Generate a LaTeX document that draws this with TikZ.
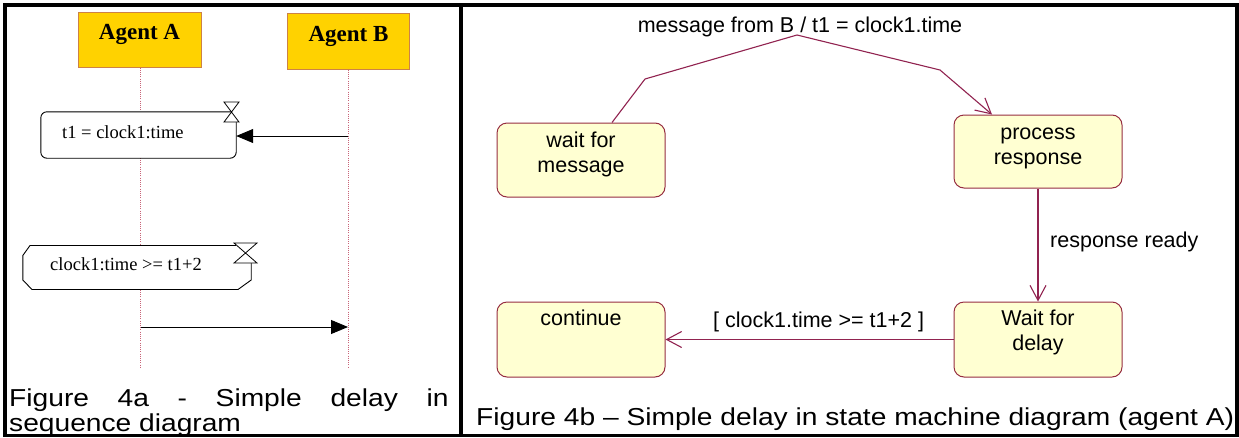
\documentclass[tikz,border=0pt]{standalone}
\usepackage{graphicx}
\usepackage{fontspec}
\setmainfont{Liberation Sans}
\newfontfamily\seqfont{Liberation Serif}
\usetikzlibrary{arrows.meta,calc}

\definecolor{agentfill}{RGB}{255,210,0}
\definecolor{agentdraw}{RGB}{205,130,70}
\definecolor{lifecol}{RGB}{200,100,120}
\definecolor{statefill}{RGB}{255,255,210}
\definecolor{statedraw}{RGB}{150,45,65}
\definecolor{transcol}{RGB}{145,35,80}

\tikzset{
  agent/.style={draw=agentdraw, fill=agentfill, line width=1pt, inner sep=0pt},
  agentlabel/.style={font=\seqfont\bfseries\fontsize{23}{26}\selectfont, inner sep=0pt, anchor=base},
  lifeline/.style={draw=lifecol, line width=0.8pt, dash pattern=on 1pt off 1.2pt},
  actbox/.style={draw=black, fill=white, line width=0.9pt},
  boxtext/.style={font=\seqfont\fontsize{18.5}{21}\selectfont, inner sep=0pt, anchor=base west},
  sync/.style={-{Triangle[length=17pt,width=14pt]}, line width=0.9pt},
  hourglass/.style={draw=black, fill=white, line width=0.8pt, line join=miter},
  state/.style={draw=statedraw, fill=statefill, rounded corners=10pt, line width=1pt, minimum width=168pt, inner sep=0pt},
  statetext/.style={font=\fontsize{21.5}{24.5}\selectfont, inner sep=0pt, anchor=base},
  trans/.style={draw=transcol, line width=1.1pt, -{Straight Barb[length=15pt,width=16pt]}},
  translabel/.style={font=\fontsize{21.5}{24}\selectfont, inner sep=0pt, anchor=base west},
  caption/.style={font=\fontsize{24.5}{27}\selectfont, inner sep=0pt, anchor=base west},
  frame/.style={draw=black, line width=3.5pt},
}
% captions are set slightly wide
\newcommand{\widecap}[1]{\scalebox{1.15}[1]{#1}}

\begin{document}
\begin{tikzpicture}[x=1pt,y=-1pt]
\useasboundingbox (0,0) rectangle (1239,437);

% panel frames
\draw[frame] (5,5) rectangle (1237,435.5);
\draw[line width=4pt] (461,5) -- (461,435.5);

% ---------- sequence diagram ----------
\node[agent, minimum width=123pt, minimum height=55pt] (agA) at (139.5,39.5) {};
\node[agentlabel] at ($(agA.north)+(0,28)$) {Agent A};
\node[agent, minimum width=122pt, minimum height=56pt] (agB) at (348.5,41) {};
\node[agentlabel] at ($(agB.north)+(0,29)$) {Agent B};

\coordinate (endA) at (140,367);
\coordinate (endB) at (348,367);
\draw[lifeline] (agA.south -| endA) -- (endA);
\draw[lifeline] (agB.south -| endB) -- (endB);

% action box with timer
\node[minimum width=195pt, minimum height=46pt, inner sep=0pt] (setbox) at (138.5,135) {};
\draw[actbox, rounded corners=6pt] ($(setbox.north east)+(-4.5,0)$) -- (setbox.north west)
  -- (setbox.south west) -- (setbox.south east) -- ($(setbox.north east)+(0,9)$);
\draw[hourglass] (224,102) -- (239,102) -- (224,122) -- (239,122) -- cycle;
\node[boxtext] at (62,138) {t1 = clock1:time};

\coordinate (m1) at (348,136);
\draw[sync] (m1) -- (m1 -| setbox.east);

% guard box with timer
\node[minimum width=228pt, minimum height=44pt, inner sep=0pt] (guardbox) at (137,267.5) {};
\draw[actbox] (236,245.5) -- (30,245.5) -- (guardbox.west |- 0,255.5) -- (guardbox.west |- 0,280)
  -- (32,289.5) -- (238,289.5) -- (guardbox.east |- 0,280) -- (guardbox.east |- 0,263);
\draw[hourglass] (234,243) -- (257,243) -- (234,263) -- (257,263) -- cycle;
\node[boxtext] at (50,270) {clock1:time >= t1+2};

\coordinate (m2) at (141,327);
\draw[sync] (m2) -- (m2 -| endB);

\node[caption] at (9,406) {\widecap{\makebox[382pt][s]{Figure 4a - Simple delay in}}};
\node[caption] at (9,431) {\widecap{sequence diagram}};

% ---------- state machine ----------
\node[state, minimum height=74pt] (wfm) at (581,160) {};
\node[statetext] at ($(wfm.north)+(0,25)$) {\begin{tabular}[t]{@{}c@{}}wait for\\message\end{tabular}};
\node[state, minimum height=73pt] (proc) at (1038,151.5) {};
\node[statetext] at ($(proc.north)+(0,25)$) {\begin{tabular}[t]{@{}c@{}}process\\response\end{tabular}};
\node[state, minimum height=75pt] (wfd) at (1038,339.5) {};
\node[statetext] at ($(wfd.north)+(0,24)$) {\begin{tabular}[t]{@{}c@{}}Wait for\\delay\end{tabular}};
\node[state, minimum height=75pt] (cont) at (581,339.5) {};
\node[statetext] at ($(cont.north)+(0,24)$) {continue};

\coordinate (b1) at (645,79);
\coordinate (b2) at (797,35);
\coordinate (b3) at (940,70);
\draw[trans] ($(wfm.north)+(31,0)$) -- (b1) -- (b2) -- (b3) -- ($(proc.north)+(-46,0)$);
\draw[trans] (proc.south) -- (wfd.north);
\draw[trans] (wfd.west) -- (cont.east);

\node[translabel, anchor=base] at (800,32) {message from B / t1 = clock1.time};
\node[translabel] at (1050,247) {response ready};
\node[translabel] at (713,327) {[ clock1.time >= t1+2 ]};

\node[caption] at (476,425) {\widecap{Figure 4b – Simple delay in state machine diagram (agent A)}};
\end{tikzpicture}
\end{document}
